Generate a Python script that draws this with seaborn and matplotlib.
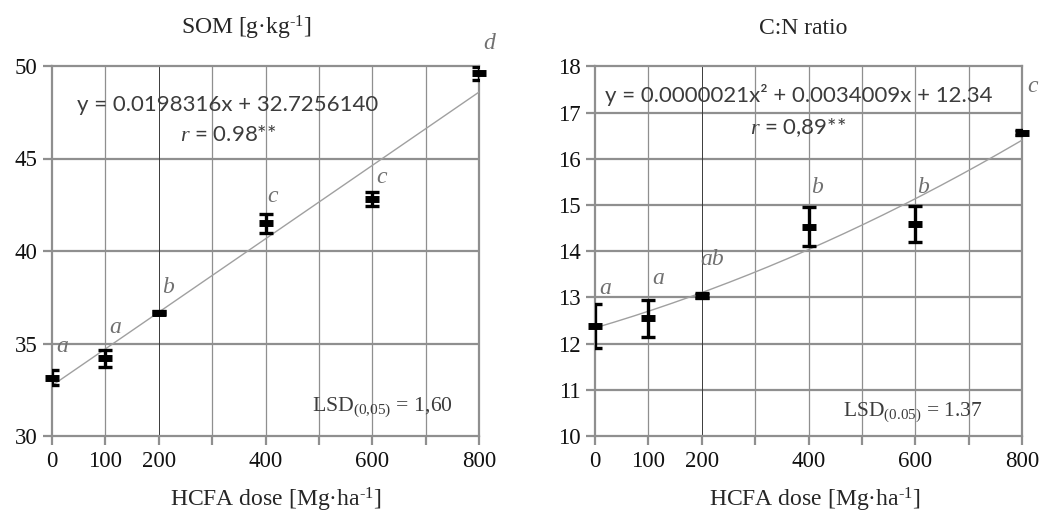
import numpy as np
import pandas as pd
import matplotlib
matplotlib.use("Agg")
import matplotlib.pyplot as plt
import seaborn as sns

# HCFA doses and measured soil properties (means with error half-widths)
dose = [0, 100, 200, 400, 600, 800]
som_mean = [33.15, 34.2, 36.65, 41.5, 42.8, 49.6]
som_err = [0.4, 0.45, 0.08, 0.5, 0.37, 0.36]
som_letters = ["a", "a", "b", "c", "c", "d"]
cn_mean = [12.38, 12.55, 13.04, 14.53, 14.59, 16.57]
cn_err = [0.48, 0.4, 0.05, 0.42, 0.4, 0.05]
cn_letters = ["a", "a", "ab", "b", "b", "c"]

# Regression fits
som_fit = [0.0198316, 32.7256140]            # linear: a*x + b
cn_fit = [0.0000021, 0.0034009, 12.34]       # quadratic: a*x^2 + b*x + c

xtick_pos = [0, 100, 200, 300, 400, 500, 600, 700, 800]
xtick_lab = ["0", "100", "200", "", "400", "", "600", "", "800"]

sns.set_theme(style="white")
SERIF = ["Liberation Serif", "DejaVu Serif"]
plt.rcParams["font.family"] = SERIF
plt.rcParams["mathtext.fontset"] = "custom"
plt.rcParams["mathtext.rm"] = "Liberation Serif"
plt.rcParams["mathtext.it"] = "Liberation Serif:italic"

DPI = 100
fig = plt.figure(figsize=(10.4, 5.13), dpi=DPI)
W, H = 1040, 513
ax1 = fig.add_axes([52 / W, (H - 436) / H, 427 / W, 370 / H])
ax2 = fig.add_axes([595 / W, (H - 436) / H, 427 / W, 369.5 / H])

GRID = "#8f8f8f"
EQ_FONT = ["Lato", "DejaVu Sans"]
TXT = "#3c3c3c"
SUP = "$^{\\mathrm{‐1}}$"   # small raised "-1" with a short hyphen


def style_axes(ax, ylim, yticks):
    ax.set_xlim(0, 800)
    ax.set_ylim(*ylim)
    ax.set_yticks(yticks)
    ax.set_xticks(xtick_pos)
    ax.set_xticklabels(xtick_lab)
    for y in yticks[1:-1]:
        ax.axhline(y, color=GRID, lw=1.6, zorder=0)
    for x in xtick_pos[1:-1]:
        c, lw = ("#3a3a3a", 0.7) if x == 200 else (GRID, 0.9)
        ax.axvline(x, color=c, lw=lw, zorder=0)
    for s in ax.spines.values():
        s.set_color(GRID)
        s.set_linewidth(1.6)
        s.set_zorder(0)
    ax.tick_params(axis="both", which="major", length=6.5, width=1.6,
                   color=GRID, labelsize=16.5, pad=4, labelcolor="#111111",
                   direction="out", left=True, bottom=True)
    ax.set_xlabel("")
    ax.set_ylabel("")


def draw_panel(ax, mean, err, letters, curve_y, offsets):
    sns.lineplot(x=curve_x, y=curve_y, ax=ax, color="#a0a0a0", lw=1.0,
                 zorder=2)
    ax.errorbar(dose, mean, yerr=err, fmt="none", ecolor="black",
                elinewidth=2.4, capsize=5, capthick=2.4, zorder=3)
    sns.scatterplot(x=dose, y=mean, ax=ax, marker="_", s=95,
                    linewidth=5, color="black", zorder=4, clip_on=False)
    for x, m, e, t, (dx, dy) in zip(dose, mean, err, letters, offsets):
        ax.annotate(t, (x, m + e), xytext=(dx, dy), textcoords="offset pixels",
                    ha="center", va="center", fontsize=17, style="italic",
                    color="#707070", annotation_clip=False)


curve_x = np.linspace(0, 800, 201)

# SOM panel
som_curve = som_fit[0] * curve_x + som_fit[1]
style_axes(ax1, (30, 50), [30, 35, 40, 45, 50])
draw_panel(ax1, som_mean, som_err, som_letters, som_curve,
           [(10, 24), (10, 22), (9, 24), (7, 18), (9, 15), (10, 23)])
ax1.set_title("SOM [g·kg" + SUP + "]", x=(246 - 52) / 427, y=1 + 38 / 370,
              va="center", fontsize=17, pad=0)
ax1.set_xlabel("HCFA dose [Mg·ha" + SUP + "]", fontsize=17)
ax1.xaxis.set_label_coords((276 - 52) / 427, -(500 - 436) / 370)
ax1.xaxis.label.set_va("center")
ax1.text(0.412, 0.895, "y = 0.0198316x + 32.7256140", transform=ax1.transAxes,
         ha="center", va="center", fontsize=16, family=EQ_FONT, color=TXT)
ax1.text(0.412, 0.814, "$\\it{r}$ = 0.98**", transform=ax1.transAxes,
         ha="center", va="center", fontsize=16, family=EQ_FONT, color=TXT)
ax1.text(0.775, 0.078, "LSD$_{\\mathrm{(0{,}05)}}$ = 1,60",
         transform=ax1.transAxes, ha="center", va="center", fontsize=15.7,
         color=TXT)

# C:N panel
cn_curve = cn_fit[0] * curve_x ** 2 + cn_fit[1] * curve_x + cn_fit[2]
style_axes(ax2, (10, 18), [10, 11, 12, 13, 14, 15, 16, 17, 18])
draw_panel(ax2, cn_mean, cn_err, cn_letters, cn_curve,
           [(10, 15), (10, 21), (10, 34), (9, 20), (8, 18), (11, 44)])
ax2.set_title("C:N ratio", x=(803 - 595) / 427, y=1 + 38 / 370,
              va="center", fontsize=17, pad=0)
ax2.set_xlabel("HCFA dose [Mg·ha" + SUP + "]", fontsize=17)
ax2.xaxis.set_label_coords((815 - 595) / 427, -(500 - 436) / 370)
ax2.xaxis.label.set_va("center")
ax2.text(0.478, 0.923, "y = 0.0000021x² + 0.0034009x + 12.34",
         transform=ax2.transAxes, ha="center", va="center", fontsize=16,
         family=EQ_FONT, color=TXT)
ax2.text(0.476, 0.834, "$\\it{r}$ = 0,89**", transform=ax2.transAxes,
         ha="center", va="center", fontsize=16, family=EQ_FONT, color=TXT)
ax2.text(0.745, 0.065, "LSD$_{\\mathrm{(0.05)}}$ = 1.37",
         transform=ax2.transAxes, ha="center", va="center", fontsize=15.5,
         color=TXT)

fig.savefig("out.png", dpi=DPI, facecolor="white")
